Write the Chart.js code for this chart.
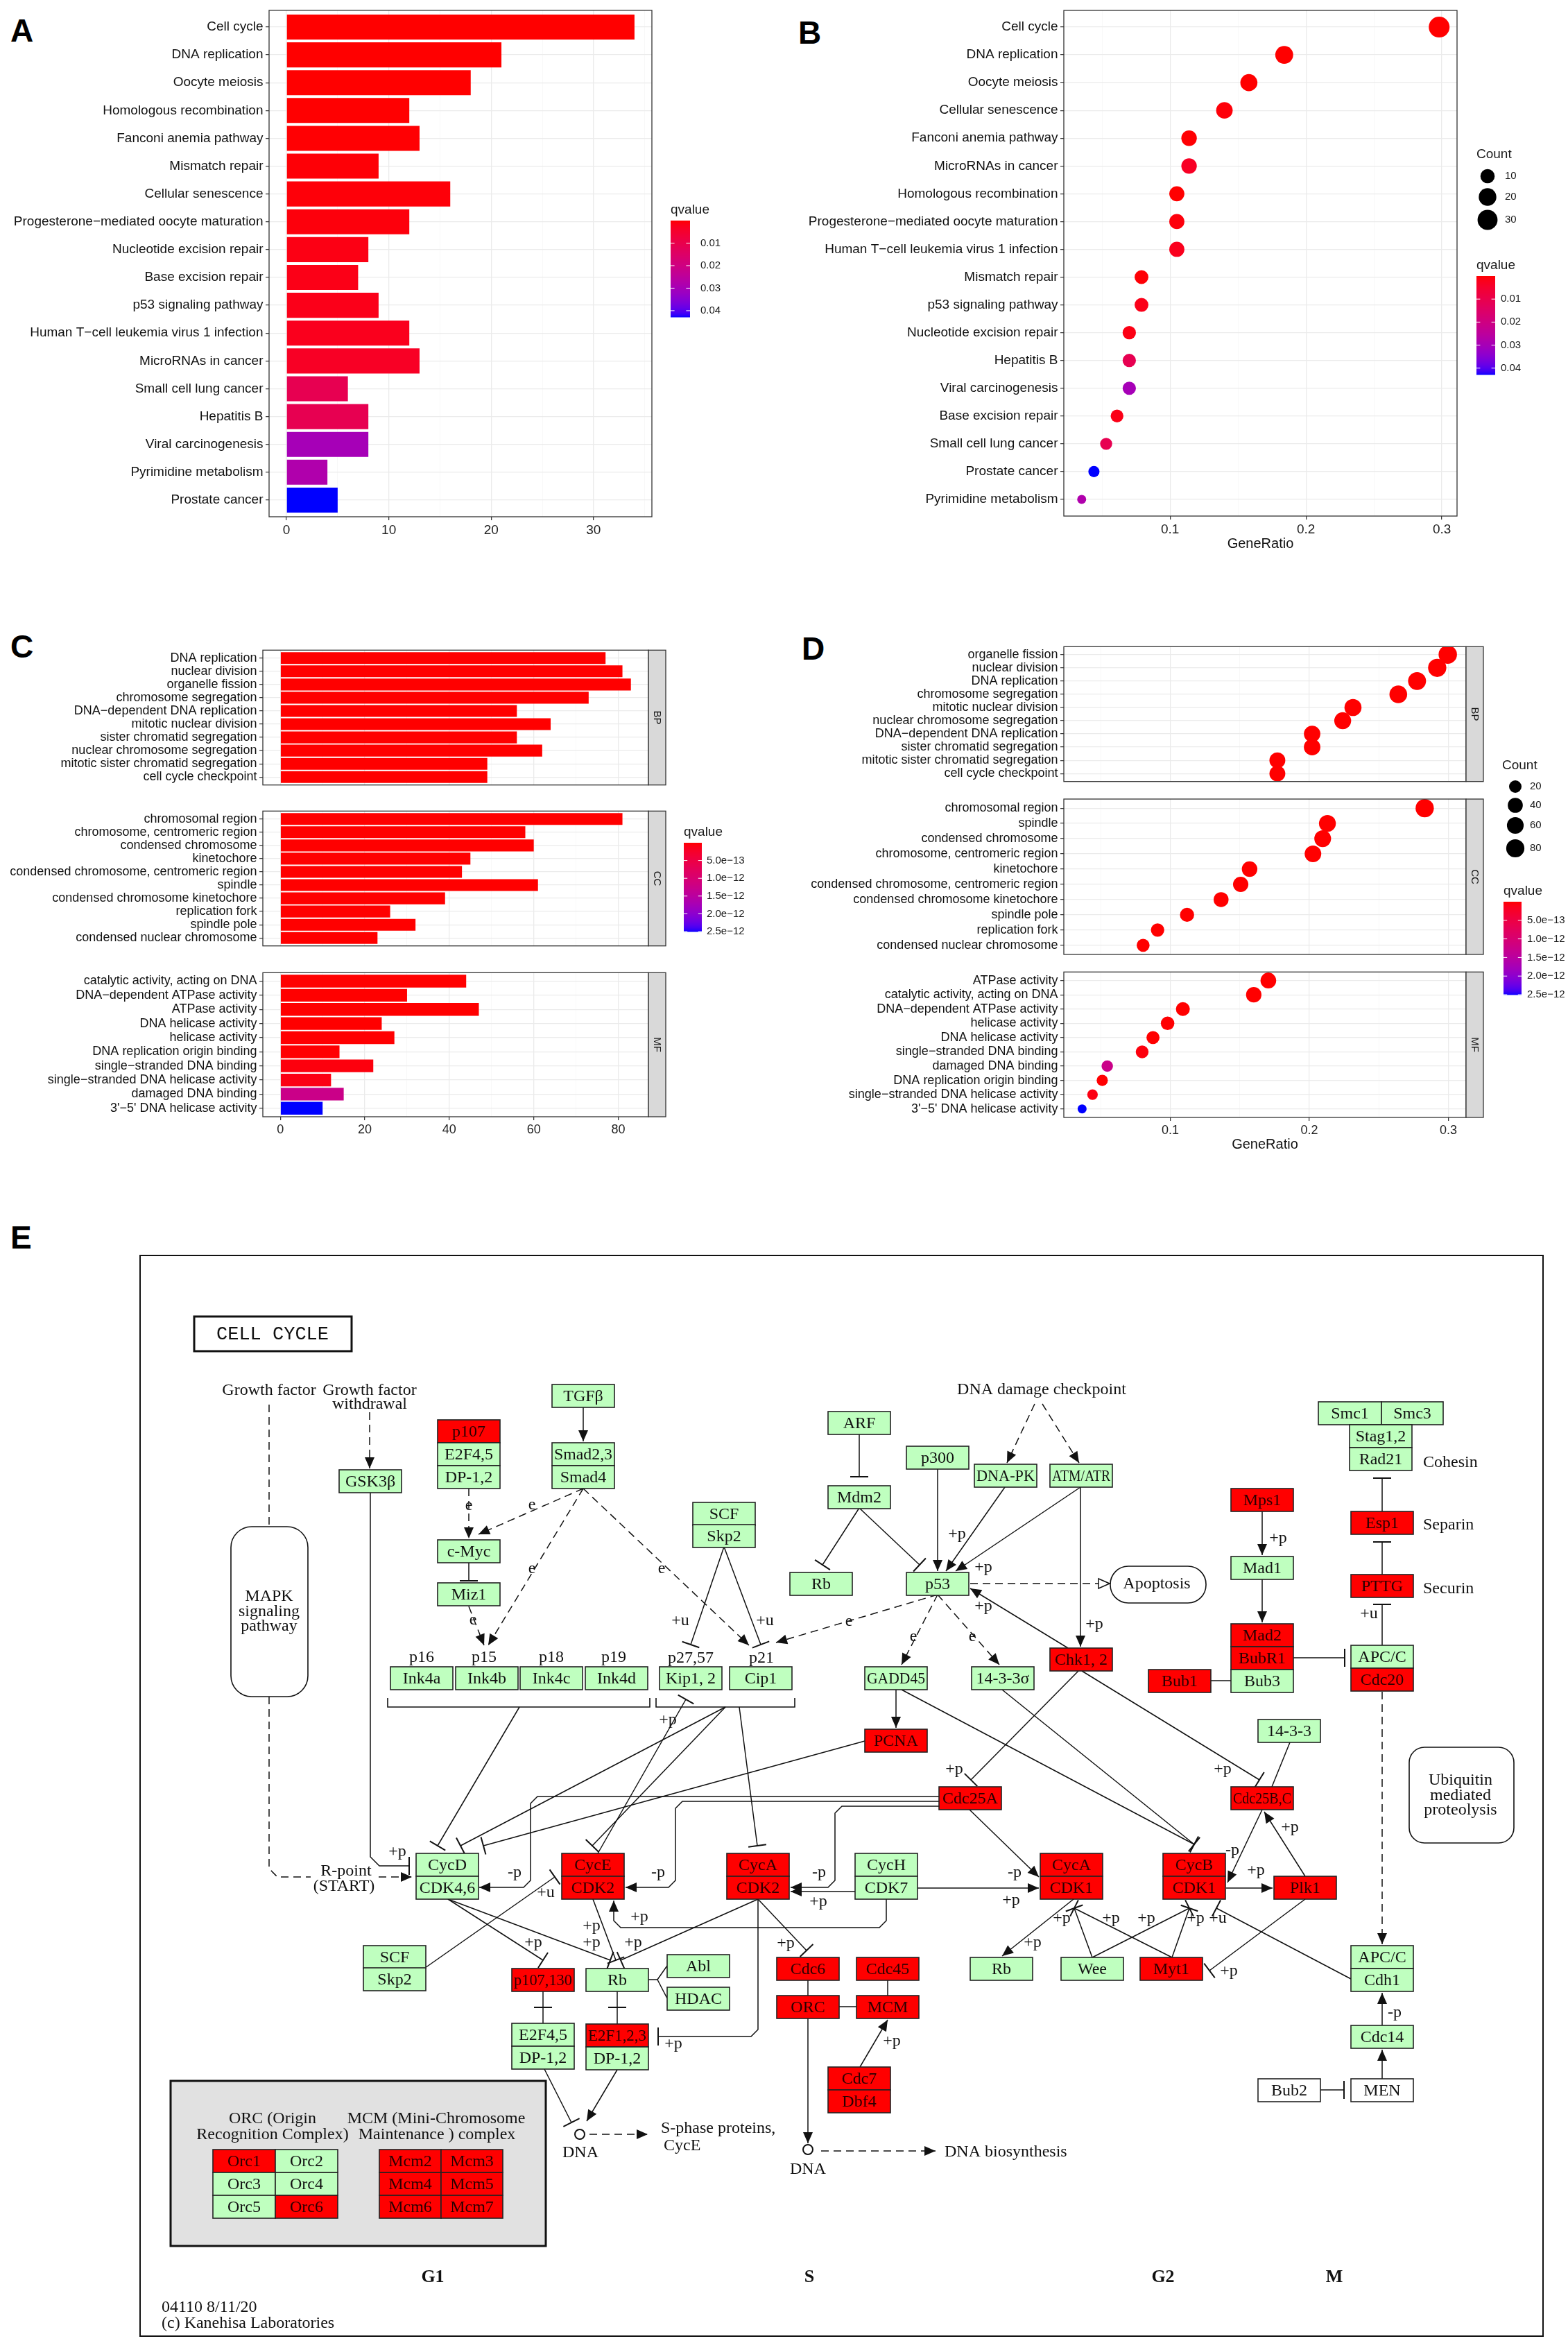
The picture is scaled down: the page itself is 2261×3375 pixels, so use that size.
<!DOCTYPE html>
<html>
<head>
<meta charset="utf-8">
<title>Enrichment and cell cycle pathway</title>
<script src="https://cdn.jsdelivr.net/npm/chart.js@4.4.1/dist/chart.umd.min.js"></script>
<style>
  html, body { margin: 0; padding: 0; background: #fff; }
  body { position: relative; width: 2261px; height: 3375px; overflow: hidden; }
  canvas { position: absolute; }
  .tag { position: absolute; font: bold 46px "Liberation Sans", Arial, sans-serif; line-height: 46px; color: #000; }
</style>
</head>
<body>
<div class="tag" style="left:15px;top:21px">A</div>
<div class="tag" style="left:1151px;top:24px">B</div>
<div class="tag" style="left:15px;top:909px">C</div>
<div class="tag" style="left:1156px;top:912px">D</div>
<div class="tag" style="left:15px;top:1761px">E</div>
<script>
const SANS = '"Liberation Sans", Arial, sans-serif';
const SERIF = '"Liberation Serif", "Times New Roman", serif';
const MONO = '"Liberation Mono", "Courier New", monospace';

Chart.defaults.font.family = SANS;
Chart.defaults.color = '#111';
Chart.defaults.animation = false;
Chart.defaults.responsive = false;
Chart.defaults.plugins.legend.display = false;
Chart.defaults.plugins.tooltip.enabled = false;

// ---- A / B : KEGG enrichment ----
const aPathways = ['Cell cycle', 'DNA replication', 'Oocyte meiosis', 'Homologous recombination',
  'Fanconi anemia pathway', 'Mismatch repair', 'Cellular senescence',
  'Progesterone\u2212mediated oocyte maturation', 'Nucleotide excision repair', 'Base excision repair',
  'p53 signaling pathway', 'Human T\u2212cell leukemia virus 1 infection', 'MicroRNAs in cancer',
  'Small cell lung cancer', 'Hepatitis B', 'Viral carcinogenesis', 'Pyrimidine metabolism', 'Prostate cancer'];
const aCounts = [34, 21, 18, 12, 13, 9, 16, 12, 8, 7, 9, 12, 13, 6, 8, 8, 4, 5];
const aQvalues = [1e-20, 1e-12, 2e-5, 1e-4, 2e-4, 4e-4, 6e-4, 8e-4, 1.5e-3, 1.8e-3, 2e-3, 2.5e-3,
  3.5e-3, 0.011, 0.011, 0.030, 0.028, 0.0428];

const bPathways = ['Cell cycle', 'DNA replication', 'Oocyte meiosis', 'Cellular senescence',
  'Fanconi anemia pathway', 'MicroRNAs in cancer', 'Homologous recombination',
  'Progesterone\u2212mediated oocyte maturation', 'Human T\u2212cell leukemia virus 1 infection',
  'Mismatch repair', 'p53 signaling pathway', 'Nucleotide excision repair', 'Hepatitis B',
  'Viral carcinogenesis', 'Base excision repair', 'Small cell lung cancer', 'Prostate cancer',
  'Pyrimidine metabolism'];
const bGeneRatio = [0.298, 0.184, 0.158, 0.140, 0.114, 0.114, 0.105, 0.105, 0.105, 0.079, 0.079,
  0.070, 0.070, 0.070, 0.061, 0.053, 0.044, 0.035];
const bCounts = [34, 21, 18, 16, 13, 13, 12, 12, 12, 9, 9, 8, 8, 8, 7, 6, 5, 4];
const bQvalues = [1e-20, 1e-12, 2e-5, 6e-4, 2e-4, 3.5e-3, 1e-4, 8e-4, 2.5e-3, 4e-4, 2e-3, 1.5e-3,
  0.011, 0.030, 1.8e-3, 0.011, 0.0428, 0.028];

// ---- C / D : GO enrichment ----
const cBPTerms = ['DNA replication', 'nuclear division', 'organelle fission', 'chromosome segregation',
  'DNA\u2212dependent DNA replication', 'mitotic nuclear division', 'sister chromatid segregation',
  'nuclear chromosome segregation', 'mitotic sister chromatid segregation', 'cell cycle checkpoint'];
const cBPCounts = [77, 81, 83, 73, 56, 64, 56, 62, 49, 49];
const cBPQ = [1e-40, 1e-38, 1e-37, 1e-33, 1e-32, 1e-30, 1e-29, 1e-29, 1e-26, 1e-20];
const cCCTerms = ['chromosomal region', 'chromosome, centromeric region', 'condensed chromosome',
  'kinetochore', 'condensed chromosome, centromeric region', 'spindle',
  'condensed chromosome kinetochore', 'replication fork', 'spindle pole', 'condensed nuclear chromosome'];
const cCCCounts = [81, 58, 60, 45, 43, 61, 39, 26, 32, 23];
const cCCQ = [1e-45, 1e-30, 1e-29, 1e-24, 1e-23, 1e-22, 1e-21, 1e-17, 1e-16, 1e-15];
const cMFTerms = ['catalytic activity, acting on DNA', 'DNA\u2212dependent ATPase activity', 'ATPase activity',
  'DNA helicase activity', 'helicase activity', 'DNA replication origin binding',
  'single\u2212stranded DNA binding', 'single\u2212stranded DNA helicase activity', 'damaged DNA binding',
  "3'\u22125' DNA helicase activity"];
const cMFCounts = [44, 30, 47, 24, 27, 14, 22, 12, 15, 10];
const cMFQ = [1e-20, 1e-18, 1e-17, 1e-15, 1e-14, 1e-14, 5e-14, 8e-14, 1.25e-12, 2.5e-12];

const dBPTerms = ['organelle fission', 'nuclear division', 'DNA replication', 'chromosome segregation',
  'mitotic nuclear division', 'nuclear chromosome segregation', 'DNA\u2212dependent DNA replication',
  'sister chromatid segregation', 'mitotic sister chromatid segregation', 'cell cycle checkpoint'];
const dBPRatio = [0.2996, 0.292, 0.2775, 0.264, 0.2314, 0.224, 0.202, 0.202, 0.177, 0.177];
const dBPCounts = [83, 81, 77, 73, 64, 62, 56, 56, 49, 49];
const dBPQ = [1e-37, 1e-38, 1e-40, 1e-33, 1e-30, 1e-29, 1e-32, 1e-29, 1e-26, 1e-20];
const dCCTerms = ['chromosomal region', 'spindle', 'condensed chromosome', 'chromosome, centromeric region',
  'kinetochore', 'condensed chromosome, centromeric region', 'condensed chromosome kinetochore',
  'spindle pole', 'replication fork', 'condensed nuclear chromosome'];
const dCCRatio = [0.283, 0.213, 0.2096, 0.2026, 0.157, 0.1506, 0.1365, 0.112, 0.0908, 0.0804];
const dCCCounts = [81, 61, 60, 58, 45, 43, 39, 32, 26, 23];
const dCCQ = [1e-45, 1e-22, 1e-29, 1e-30, 1e-24, 1e-23, 1e-21, 1e-16, 1e-17, 1e-15];
const dMFTerms = ['ATPase activity', 'catalytic activity, acting on DNA', 'DNA\u2212dependent ATPase activity',
  'helicase activity', 'DNA helicase activity', 'single\u2212stranded DNA binding', 'damaged DNA binding',
  'DNA replication origin binding', 'single\u2212stranded DNA helicase activity', "3'\u22125' DNA helicase activity"];
const dMFRatio = [0.1705, 0.16, 0.109, 0.098, 0.0875, 0.0797, 0.0546, 0.051, 0.044, 0.0365];
const dMFCounts = [47, 44, 30, 27, 24, 22, 15, 14, 12, 10];
const dMFQ = [1e-17, 1e-20, 1e-18, 1e-14, 1e-15, 5e-14, 1.25e-12, 1e-14, 8e-14, 2.5e-12];

const goQTicks = [5e-13, 1e-12, 1.5e-12, 2e-12, 2.5e-12];
const goQLabels = ['5.0e\u221213', '1.0e\u221212', '1.5e\u221212', '2.0e\u221212', '2.5e\u221212'];

// ---- E : KEGG cell cycle map (hsa04110) ----
// [label, left, top, colour(r = enriched, g = not found, w = other), width]
const keggNodes = [
  ['GSK3\u03b2', 489, 2119, 'g'],
  ['p107', 631, 2047, 'r'], ['E2F4,5', 631, 2080, 'g'], ['DP-1,2', 631, 2113, 'g'],
  ['TGF\u03b2', 796, 1996, 'g'], ['Smad2,3', 796, 2080, 'g'], ['Smad4', 796, 2113, 'g'],
  ['c-Myc', 631, 2220, 'g'], ['Miz1', 631, 2282, 'g'],
  ['Ink4a', 563, 2403, 'g'], ['Ink4b', 657, 2403, 'g'], ['Ink4c', 750, 2403, 'g'], ['Ink4d', 844, 2403, 'g'],
  ['SCF', 999, 2166, 'g'], ['Skp2', 999, 2198, 'g'],
  ['Kip1, 2', 951, 2403, 'g'], ['Cip1', 1052, 2403, 'g'],
  ['ARF', 1194, 2035, 'g'], ['Mdm2', 1194, 2142, 'g'], ['Rb', 1139, 2267, 'g'],
  ['p300', 1307, 2085, 'g'], ['p53', 1307, 2267, 'g'],
  ['DNA-PK', 1405, 2111, 'g'], ['ATM/ATR', 1514, 2111, 'g'],
  ['GADD45', 1247, 2403, 'g'], ['14-3-3\u03c3', 1401, 2403, 'g'], ['PCNA', 1247, 2493, 'r'],
  ['Chk1, 2', 1514, 2376, 'r'],
  ['Mps1', 1775, 2146, 'r'], ['Mad1', 1775, 2244, 'g'], ['Mad2', 1775, 2341, 'r'],
  ['BubR1', 1775, 2374, 'r'], ['Bub3', 1775, 2407, 'g'], ['Bub1', 1656, 2407, 'r'],
  ['Smc1', 1901, 2021, 'g', 91], ['Smc3', 1992, 2021, 'g', 89], ['Stag1,2', 1946, 2054, 'g'],
  ['Rad21', 1946, 2087, 'g'],
  ['Esp1', 1948, 2179, 'r'], ['PTTG', 1948, 2270, 'r'], ['APC/C', 1948, 2372, 'g'], ['Cdc20', 1948, 2405, 'r'],
  ['14-3-3', 1814, 2479, 'g'],
  ['CycD', 600, 2672, 'g'], ['CDK4,6', 600, 2705, 'g'],
  ['CycE', 810, 2672, 'r'], ['CDK2', 810, 2705, 'r'],
  ['CycA', 1048, 2672, 'r'], ['CDK2', 1048, 2705, 'r'],
  ['CycH', 1233, 2672, 'g'], ['CDK7', 1233, 2705, 'g'],
  ['CycA', 1500, 2672, 'r'], ['CDK1', 1500, 2705, 'r'],
  ['CycB', 1677, 2672, 'r'], ['CDK1', 1677, 2705, 'r'],
  ['Plk1', 1837, 2705, 'r'], ['Cdc25A', 1354, 2576, 'r'], ['Cdc25B,C', 1775, 2576, 'r'],
  ['SCF', 524, 2805, 'g'], ['Skp2', 524, 2837, 'g'],
  ['p107,130', 738, 2838, 'r'], ['E2F4,5', 738, 2917, 'g'], ['DP-1,2', 738, 2950, 'g'],
  ['Rb', 845, 2838, 'g'], ['E2F1,2,3', 845, 2918, 'r'], ['DP-1,2', 845, 2951, 'g'],
  ['Abl', 962, 2818, 'g'], ['HDAC', 962, 2865, 'g'],
  ['Cdc6', 1120, 2822, 'r'], ['Cdc45', 1235, 2822, 'r'], ['ORC', 1120, 2877, 'r'], ['MCM', 1235, 2877, 'r'],
  ['Cdc7', 1194, 2980, 'r'], ['Dbf4', 1194, 3013, 'r'],
  ['Rb', 1399, 2822, 'g'], ['Wee', 1530, 2822, 'g'], ['Myt1', 1644, 2822, 'r'],
  ['APC/C', 1948, 2805, 'g'], ['Cdh1', 1948, 2838, 'g'], ['Cdc14', 1948, 2920, 'g'],
  ['MEN', 1948, 2997, 'w'], ['Bub2', 1814, 2997, 'w'],
  ['Orc1', 307, 3099, 'r'], ['Orc2', 397, 3099, 'g'], ['Orc3', 307, 3132, 'g'], ['Orc4', 397, 3132, 'g'],
  ['Orc5', 307, 3165, 'g'], ['Orc6', 397, 3165, 'r'],
  ['Mcm2', 547, 3099, 'r', 89], ['Mcm3', 636, 3099, 'r', 89], ['Mcm4', 547, 3132, 'r', 89],
  ['Mcm5', 636, 3132, 'r', 89], ['Mcm6', 547, 3165, 'r', 89], ['Mcm7', 636, 3165, 'r', 89]
];

// [type, polyline, label, label x, label y]   a arrow, i inhibition, l line, d dashed, da dashed arrow, o open arrow, lb bar on line
const keggEdges = [
  ['d', [388, 2025, 388, 2201]],
  ['d', [388, 2446, 388, 2694, 400, 2706, 448, 2706]],
  ['da', [546, 2706, 594, 2706]],
  ['da', [533, 2036, 533, 2117]],
  ['i', [534, 2151, 534, 2677, 547, 2690, 590, 2690], '+p', 573, 2670],
  ['a', [841, 2029, 841, 2078]],
  ['da', [676, 2146, 676, 2218], 'e', 676, 2171],
  ['da', [841, 2146, 690, 2212], 'e', 767, 2170],
  ['i', [676, 2253, 676, 2279]],
  ['da', [676, 2316, 698, 2372], 'e', 682, 2336],
  ['da', [841, 2146, 704, 2372], 'e', 767, 2262],
  ['da', [841, 2146, 1080, 2372], 'e', 954, 2262],
  ['i', [1044, 2230, 996, 2371], '+u', 981, 2337],
  ['i', [1044, 2230, 1097, 2371], '+u', 1103, 2337],
  ['da', [1352, 2299, 1119, 2368], 'e', 1224, 2338],
  ['i', [1239, 2068, 1239, 2129]],
  ['i', [1239, 2174, 1186, 2256]],
  ['i', [1239, 2174, 1326, 2256]],
  ['a', [1352, 2118, 1352, 2265]],
  ['a', [1449, 2144, 1364, 2265], '+p', 1380, 2212],
  ['a', [1558, 2144, 1378, 2265], '+p', 1418, 2260],
  ['da', [1492, 2024, 1452, 2109]],
  ['da', [1503, 2024, 1556, 2109]],
  ['a', [1558, 2144, 1558, 2374], '+p', 1578, 2342],
  ['a', [1540, 2376, 1399, 2290], '+p', 1418, 2316],
  ['o', [1399, 2283, 1600, 2283]],
  ['da', [1352, 2299, 1300, 2400], 'e', 1317, 2360],
  ['da', [1352, 2299, 1441, 2400], 'e', 1402, 2360],
  ['a', [1292, 2436, 1292, 2491]],
  ['a', [1820, 2179, 1820, 2242], '+p', 1843, 2218],
  ['a', [1820, 2276, 1820, 2339]],
  ['i', [1865, 2390, 1939, 2390]],
  ['l', [1746, 2423, 1775, 2423]],
  ['i', [1993, 2179, 1993, 2131]],
  ['i', [1993, 2270, 1993, 2223]],
  ['i', [1993, 2372, 1993, 2313], '+u', 1974, 2327],
  ['da', [1993, 2439, 1993, 2803]],
  ['i', [1555, 2409, 1400, 2566], '+p', 1376, 2551],
  ['i', [1560, 2409, 1816, 2566], '+p', 1763, 2551],
  ['l', [1860, 2512, 1834, 2576]],
  ['i', [1300, 2436, 1722, 2659]],
  ['i', [1445, 2436, 1722, 2659]],
  ['a', [1398, 2609, 1498, 2706], '-p', 1463, 2700],
  ['a', [1354, 2590, 775, 2590, 765, 2600, 765, 2711, 755, 2721, 691, 2721], '-p', 742, 2700],
  ['a', [1354, 2597, 984, 2597, 974, 2607, 974, 2711, 964, 2721, 902, 2721], '-p', 949, 2700],
  ['a', [1354, 2604, 1214, 2604, 1204, 2614, 1204, 2711, 1194, 2721, 1140, 2721], '-p', 1181, 2700],
  ['a', [1233, 2727, 1140, 2727], '+p', 1180, 2742],
  ['a', [1323, 2722, 1498, 2722], '+p', 1458, 2740],
  ['a', [1278, 2738, 1278, 2769, 1268, 2779, 895, 2779, 885, 2769, 885, 2740], '+p', 922, 2764],
  ['a', [1768, 2722, 1835, 2722], '+p', 1811, 2697],
  ['a', [1882, 2705, 1823, 2612], '+p', 1860, 2635],
  ['a', [1820, 2609, 1770, 2714], '-p', 1777, 2668],
  ['i', [1575, 2822, 1549, 2751]],
  ['i', [1575, 2822, 1715, 2751], '+p', 1653, 2766],
  ['i', [1690, 2822, 1549, 2751], '+p', 1602, 2766],
  ['i', [1690, 2822, 1715, 2751], '+p', 1724, 2766],
  ['a', [1548, 2738, 1445, 2820], '+p', 1489, 2801],
  ['i', [1882, 2738, 1744, 2841], '+p', 1772, 2842],
  ['i', [1948, 2853, 1754, 2751], '+u', 1756, 2766],
  ['a', [1993, 2920, 1993, 2873], '-p', 2011, 2902],
  ['a', [1993, 2997, 1993, 2955]],
  ['i', [1904, 3013, 1938, 3013]],
  ['i', [749, 2461, 631, 2661]],
  ['i', [1046, 2461, 664, 2661]],
  ['i', [1247, 2510, 697, 2661]],
  ['i', [1046, 2461, 854, 2661]],
  ['i', [1066, 2461, 1092, 2661]],
  ['i', [862, 2672, 989, 2450], '+p', 963, 2480],
  ['i', [613, 2837, 800, 2706], '+u', 787, 2729],
  ['i', [646, 2738, 783, 2826], '+p', 769, 2801],
  ['i', [646, 2738, 880, 2826]],
  ['i', [855, 2738, 888, 2826], '+p', 853, 2777],
  ['i', [1093, 2738, 895, 2826], '+p', 913, 2801],
  ['lb', [783, 2871, 783, 2917]],
  ['lb', [890, 2870, 890, 2918]],
  ['l', [935, 2854, 948, 2854, 962, 2834]],
  ['l', [948, 2854, 962, 2881]],
  ['i', [1093, 2738, 1093, 2926, 1083, 2936, 949, 2936], '+p', 971, 2947],
  ['i', [1093, 2738, 1163, 2812], '+p', 1133, 2802],
  ['l', [1165, 2855, 1165, 2877]],
  ['l', [1280, 2855, 1280, 2877]],
  ['l', [1210, 2893, 1235, 2893]],
  ['a', [1240, 2980, 1280, 2912], '+p', 1286, 2943],
  ['a', [1165, 2910, 1165, 3090]],
  ['da', [1184, 3101, 1349, 3101]],
  ['i', [785, 2983, 824, 3060]],
  ['a', [890, 2984, 846, 3058]],
  ['da', [850, 3077, 934, 3077]]
];

const keggBrackets = [[559, 937, 2448, 2461], [946, 1146, 2448, 2461]];
const keggRounds = [[333, 2201, 111, 245, 30], [1601, 2258, 138, 53, 26], [2032, 2519, 151, 138, 22]];
const keggCircles = [[836, 3077], [1165, 3099]];

// [text, x, y, align, style]
const keggTexts = [
  ['CELL CYCLE', 393, 1924, 'center', 'm'],
  ['Growth factor', 388, 2005, 'center', 'n'],
  ['Growth factor', 533, 2005, 'center', 'n'], ['withdrawal', 533, 2025, 'center', 'n'],
  ['MAPK', 388, 2302, 'center', 'n'], ['signaling', 388, 2324, 'center', 'n'], ['pathway', 388, 2345, 'center', 'n'],
  ['R-point', 499, 2698, 'center', 'n'], ['(START)', 496, 2720, 'center', 'n'],
  ['DNA damage checkpoint', 1502, 2004, 'center', 'n'],
  ['p16', 608, 2390, 'center', 'n'], ['p15', 698, 2390, 'center', 'n'], ['p18', 795, 2390, 'center', 'n'],
  ['p19', 885, 2390, 'center', 'n'], ['p27,57', 996, 2391, 'center', 'n'], ['p21', 1098, 2391, 'center', 'n'],
  ['Cohesin', 2052, 2109, 'left', 'n'], ['Separin', 2052, 2199, 'left', 'n'], ['Securin', 2052, 2291, 'left', 'n'],
  ['Apoptosis', 1668, 2284, 'center', 'n'],
  ['Ubiquitin', 2106, 2567, 'center', 'n'], ['mediated', 2106, 2589, 'center', 'n'],
  ['proteolysis', 2106, 2610, 'center', 'n'],
  ['S-phase proteins,', 953, 3069, 'left', 'n'], ['CycE', 957, 3094, 'left', 'n'],
  ['DNA biosynthesis', 1362, 3103, 'left', 'n'],
  ['DNA', 837, 3104, 'center', 'n'], ['DNA', 1165, 3128, 'center', 'n'],
  ['+p', 853, 2801, 'center', 'n'], ['+p', 1531, 2766, 'center', 'n'],
  ['ORC (Origin', 393, 3055, 'center', 'n'], ['Recognition Complex)', 393, 3078, 'center', 'n'],
  ['MCM (Mini-Chromosome', 629, 3055, 'center', 'n'], ['Maintenance ) complex', 630, 3078, 'center', 'n'],
  ['G1', 624, 3283, 'center', 'b'], ['S', 1167, 3283, 'center', 'b'],
  ['G2', 1677, 3283, 'center', 'b'], ['M', 1924, 3283, 'center', 'b'],
  ['04110 8/11/20', 233, 3327, 'left', 'n'], ['(c) Kanehisa Laboratories', 233, 3350, 'left', 'n']
];

// ---------- colour scale (ggplot red -> blue, interpolated in Lab) ----------
function toLab(c) {
  const lin = c.map(v => { v /= 255; return v <= 0.04045 ? v / 12.92 : Math.pow((v + 0.055) / 1.055, 2.4); });
  const X = (0.4124 * lin[0] + 0.3576 * lin[1] + 0.1805 * lin[2]) / 0.95047;
  const Y = 0.2126 * lin[0] + 0.7152 * lin[1] + 0.0722 * lin[2];
  const Z = (0.0193 * lin[0] + 0.1192 * lin[1] + 0.9505 * lin[2]) / 1.08883;
  const f = t => t > 0.008856 ? Math.cbrt(t) : 7.787 * t + 16 / 116;
  return [116 * f(Y) - 16, 500 * (f(X) - f(Y)), 200 * (f(Y) - f(Z))];
}
function fromLab(l) {
  const fy = (l[0] + 16) / 116, fx = fy + l[1] / 500, fz = fy - l[2] / 200;
  const g = t => t > 0.206893 ? t * t * t : (t - 16 / 116) / 7.787;
  const X = g(fx) * 0.95047, Y = g(fy), Z = g(fz) * 1.08883;
  const lin = [3.2406 * X - 1.5372 * Y - 0.4986 * Z, -0.9689 * X + 1.8758 * Y + 0.0415 * Z,
    0.0557 * X - 0.2040 * Y + 1.0570 * Z];
  const rgb = lin.map(v => {
    v = Math.min(1, Math.max(0, v));
    v = v <= 0.0031308 ? 12.92 * v : 1.055 * Math.pow(v, 1 / 2.4) - 0.055;
    return Math.round(v * 255);
  });
  return 'rgb(' + rgb.join(',') + ')';
}
const LAB_LOW = toLab([255, 0, 0]), LAB_HIGH = toLab([0, 0, 255]);
function qColor(q, lo, hi) {
  const t = Math.min(1, Math.max(0, (q - lo) / (hi - lo)));
  return fromLab(LAB_LOW.map((v, i) => v + (LAB_HIGH[i] - v) * t));
}
function dotR(c, cmin, cmax, dmin, dmax) {
  return (dmin + (dmax - dmin) * Math.sqrt((c - cmin) / (cmax - cmin))) / 2;
}
function expand(vals, withZero) {
  const lo = withZero ? 0 : Math.min(...vals), hi = Math.max(...vals), pad = (hi - lo) * 0.05;
  return [lo - pad, hi + pad];
}

// ---------- plugins ----------
const panelPlugin = {
  id: 'panel',
  afterDatasetsDraw(chart, args, o) {
    const { ctx, chartArea: a } = chart;
    ctx.save();
    ctx.strokeStyle = '#333';
    ctx.lineWidth = 1.3;
    ctx.strokeRect(a.left, a.top, a.right - a.left, a.bottom - a.top);
    if (o.strip) {
      ctx.fillStyle = '#D9D9D9';
      ctx.fillRect(a.right, a.top, o.stripW, a.bottom - a.top);
      ctx.strokeRect(a.right, a.top, o.stripW, a.bottom - a.top);
      ctx.fillStyle = '#1a1a1a';
      ctx.font = '15px ' + SANS;
      ctx.translate(a.right + o.stripW / 2, (a.top + a.bottom) / 2);
      ctx.rotate(Math.PI / 2);
      ctx.textAlign = 'center';
      ctx.textBaseline = 'middle';
      ctx.fillText(o.strip, 0, 0);
    }
    ctx.restore();
  }
};

function drawColorbar(ctx, g) {
  const span = g.hi - g.lo;
  for (let i = 0; i < g.h; i++) {
    ctx.fillStyle = qColor(g.lo + span * (i + 0.5) / g.h, g.lo, g.hi);
    ctx.fillRect(g.x, g.y + i, g.w, 1.5);
  }
  ctx.strokeStyle = '#fff';
  ctx.lineWidth = 1;
  ctx.fillStyle = '#1a1a1a';
  ctx.font = '15px ' + SANS;
  ctx.textAlign = 'left';
  ctx.textBaseline = 'middle';
  g.ticks.forEach((v, k) => {
    const y = g.y + (v - g.lo) / span * g.h;
    ctx.beginPath();
    ctx.moveTo(g.x, y); ctx.lineTo(g.x + g.w / 5, y);
    ctx.moveTo(g.x + g.w * 0.8, y); ctx.lineTo(g.x + g.w, y);
    ctx.stroke();
    ctx.fillText(g.labels[k], g.lx, y);
  });
  ctx.font = '19px ' + SANS;
  ctx.fillText(g.title, g.x, g.y - 15);
}

function drawCountGuide(ctx, g) {
  ctx.fillStyle = '#1a1a1a';
  ctx.font = '19px ' + SANS;
  ctx.textAlign = 'left';
  ctx.textBaseline = 'middle';
  ctx.fillText(g.title, g.x, g.titleY);
  ctx.font = '15px ' + SANS;
  g.items.forEach(([c, cy]) => {
    ctx.fillStyle = '#000';
    ctx.beginPath();
    ctx.arc(g.cx, cy, g.r(c), 0, Math.PI * 2);
    ctx.fill();
    ctx.fillStyle = '#1a1a1a';
    ctx.fillText(String(c), g.lx, cy);
  });
}

const guidePlugin = {
  id: 'guide',
  afterDraw(chart, args, o) {
    if (!o || (!o.bar && !o.count)) return;
    const ctx = chart.ctx;
    ctx.save();
    ctx.translate(-o.ox, -o.oy);
    if (o.count) drawCountGuide(ctx, o.count);
    if (o.bar) drawColorbar(ctx, o.bar);
    ctx.restore();
  }
};

// ---------- scales ----------
function valueScale(range, major, minor, o) {
  const isMajor = v => major.some(m => Math.abs(m - v) < 1e-9);
  return {
    type: 'linear', min: range[0], max: range[1], offset: false,
    afterBuildTicks: s => { s.ticks = major.concat(minor).sort((p, q) => p - q).map(v => ({ value: v })); },
    afterFit: s => { s.height = o.height; },
    ticks: {
      display: o.labels, autoSkip: false, maxRotation: 0, padding: 3, color: '#222', font: { size: o.size || 19 },
      callback: v => isMajor(v) ? String(v) : ''
    },
    grid: {
      color: c => c.tick && isMajor(c.tick.value) ? '#EBEBEB' : '#F5F5F5',
      lineWidth: c => c.tick && isMajor(c.tick.value) ? 1.3 : 0.7,
      drawTicks: o.labels, tickLength: 5, tickWidth: 1.2,
      tickColor: c => c.tick && isMajor(c.tick.value) ? '#333' : 'rgba(0,0,0,0)'
    },
    border: { display: false },
    title: { display: !!o.title, text: o.title || '', color: '#111', font: { size: 20 }, padding: { top: 0, bottom: 4 } }
  };
}

function catScale(labels, width, size) {
  return {
    type: 'linear', reverse: true, min: 0.4, max: labels.length + 0.6, offset: false,
    afterBuildTicks: s => { s.ticks = labels.map((_, i) => ({ value: i + 1 })); },
    afterFit: s => { s.width = width; },
    ticks: { autoSkip: false, padding: 3.5, color: '#111', font: { size: size }, callback: v => labels[v - 1] },
    grid: { color: '#EBEBEB', lineWidth: 1.3, offset: false, tickLength: 5, tickWidth: 1.2, tickColor: '#333' },
    border: { display: false }
  };
}

function makeCanvas(left, top, w, h) {
  const c = document.createElement('canvas');
  c.width = w; c.height = h;
  c.style.left = left + 'px'; c.style.top = top + 'px';
  c.style.width = w + 'px'; c.style.height = h + 'px';
  document.body.appendChild(c);
  return c;
}

function panel(cfg) {
  const cv = makeCanvas(cfg.left, cfg.top, cfg.w, cfg.h);
  const pts = cfg.values.map((v, i) => ({ x: v, y: i + 1 }));
  const ds = cfg.kind === 'bar'
    ? { data: pts, backgroundColor: cfg.colors, barPercentage: 0.9, categoryPercentage: 1, borderWidth: 0 }
    : { data: pts, pointBackgroundColor: cfg.colors, pointBorderWidth: 0, pointRadius: cfg.radii, pointHoverRadius: cfg.radii };
  return new Chart(cv, {
    type: cfg.kind === 'bar' ? 'bar' : 'scatter',
    data: { datasets: [ds] },
    options: {
      indexAxis: cfg.kind === 'bar' ? 'y' : 'x',
      layout: { padding: { top: cfg.padTop, right: cfg.padRight, left: 0, bottom: 0 } },
      scales: { x: cfg.x, y: cfg.y },
      plugins: { panel: { strip: cfg.strip, stripW: 25 }, guide: cfg.guide || {} }
    },
    plugins: [panelPlugin, guidePlugin]
  });
}

// ---------- A ----------
const aLo = Math.min(...aQvalues), aHi = Math.max(...aQvalues);
panel({
  kind: 'bar', left: 0, top: 0, w: 1060, h: 790, padTop: 6, padRight: 120,
  values: aCounts, colors: aQvalues.map(q => qColor(q, aLo, aHi)),
  x: valueScale(expand(aCounts, true), [0, 10, 20, 30], [5, 15, 25, 35], { height: 45, labels: true }),
  y: catScale(aPathways, 388, 19),
  guide: { ox: 0, oy: 0, bar: { x: 967, y: 318, w: 28, h: 139, lx: 1010, lo: aLo, hi: aHi,
    ticks: [0.01, 0.02, 0.03, 0.04], labels: ['0.01', '0.02', '0.03', '0.04'], title: 'qvalue' } }
});

// ---------- B ----------
const bLo = Math.min(...bQvalues), bHi = Math.max(...bQvalues);
const bCmin = Math.min(...bCounts), bCmax = Math.max(...bCounts);
const bSize = c => dotR(c, bCmin, bCmax, 13, 30);
panel({
  kind: 'dot', left: 1060, top: 0, w: 1201, h: 800, padTop: 9, padRight: 160,
  values: bGeneRatio, radii: bCounts.map(bSize), colors: bQvalues.map(q => qColor(q, bLo, bHi)),
  x: valueScale(expand(bGeneRatio), [0.1, 0.2, 0.3], [0.05, 0.15, 0.25], { height: 56, labels: true, title: 'GeneRatio' }),
  y: catScale(bPathways, 474, 19),
  guide: { ox: 1060, oy: 0,
    count: { title: 'Count', x: 2129, titleY: 223, cx: 2145, lx: 2170, r: bSize, items: [[10, 254], [20, 284], [30, 317]] },
    bar: { x: 2129, y: 398, w: 27, h: 142, lx: 2164, lo: bLo, hi: bHi,
      ticks: [0.01, 0.02, 0.03, 0.04], labels: ['0.01', '0.02', '0.03', '0.04'], title: 'qvalue' } }
});

// ---------- C ----------
const cAllQ = cBPQ.concat(cCCQ, cMFQ);
const cLo = Math.min(...cAllQ), cHi = Math.max(...cAllQ);
const cRange = expand(cBPCounts.concat(cCCCounts, cMFCounts), true);
const cFacets = [
  ['BP', cBPTerms, cBPCounts, cBPQ, 923, 223, 0, false],
  ['CC', cCCTerms, cCCCounts, cCCQ, 1155, 223, 0, false],
  ['MF', cMFTerms, cMFCounts, cMFQ, 1388, 262, 40, true]
];
cFacets.forEach(([name, terms, counts, qs, top, h, axisH, showTicks]) => {
  panel({
    kind: 'bar', left: 0, top: top, w: 1090, h: h, padTop: 0, padRight: 1090 - 935, strip: name,
    values: counts, colors: qs.map(q => qColor(q, cLo, cHi)),
    x: valueScale(cRange, [0, 20, 40, 60, 80], [10, 30, 50, 70], { height: axisH, labels: showTicks, size: 18 }),
    y: catScale(terms, 379, 18),
    guide: name === 'CC' ? { ox: 0, oy: top, bar: { x: 986, y: 1215, w: 26, h: 128, lx: 1019, lo: cLo, hi: cHi,
      ticks: goQTicks, labels: goQLabels, title: 'qvalue' } } : {}
  });
});

// ---------- D ----------
const dAllQ = dBPQ.concat(dCCQ, dMFQ);
const dLo = Math.min(...dAllQ), dHi = Math.max(...dAllQ);
const dAllCounts = dBPCounts.concat(dCCCounts, dMFCounts);
const dCmin = Math.min(...dAllCounts), dCmax = Math.max(...dAllCounts);
const dSize = c => dotR(c, dCmin, dCmax, 13, 26.5);
const dRange = expand(dBPRatio.concat(dCCRatio, dMFRatio));
const dFacets = [
  ['BP', dBPTerms, dBPRatio, dBPCounts, dBPQ, 918, 223, 0, 0, false],
  ['CC', dCCTerms, dCCRatio, dCCCounts, dCCQ, 1080, 370, 72, 74, false],
  ['MF', dMFTerms, dMFRatio, dMFCounts, dMFQ, 1387, 279, 0, 55, true]
];
dFacets.forEach(([name, terms, ratio, counts, qs, top, h, padTop, axisH, showTicks]) => {
  panel({
    kind: 'dot', left: 1100, top: top, w: 1161, h: h, padTop: padTop, padRight: 2261 - 2114, strip: name,
    values: ratio, radii: counts.map(dSize), colors: qs.map(q => qColor(q, dLo, dHi)),
    x: valueScale(dRange, [0.1, 0.2, 0.3], [0.05, 0.15, 0.25],
      { height: axisH, labels: showTicks, size: 18, title: showTicks ? 'GeneRatio' : '' }),
    y: catScale(terms, 434, 18),
    guide: name === 'CC' ? { ox: 1100, oy: top,
      count: { title: 'Count', x: 2166, titleY: 1104, cx: 2185, lx: 2206, r: dSize,
        items: [[20, 1134], [40, 1161], [60, 1190], [80, 1223]] },
      bar: { x: 2168, y: 1300, w: 26, h: 134, lx: 2202, lo: dLo, hi: dHi,
        ticks: goQTicks, labels: goQLabels, title: 'qvalue' } } : {}
  });
});

// ---------- E ----------
const KEGG_FILL = { r: '#FF0000', g: '#BFFFBF', w: '#FFFFFF' };

function drawEdge(ctx, e, X, Y) {
  const type = e[0], p = e[1], pts = [];
  for (let i = 0; i < p.length; i += 2) pts.push([X(p[i]), Y(p[i + 1])]);
  ctx.setLineDash(type === 'd' || type === 'da' || type === 'o' ? [11, 7] : []);
  ctx.beginPath();
  pts.forEach((q, i) => i ? ctx.lineTo(q[0], q[1]) : ctx.moveTo(q[0], q[1]));
  ctx.stroke();
  ctx.setLineDash([]);
  const a = pts[pts.length - 2], b = pts[pts.length - 1];
  const ang = Math.atan2(b[1] - a[1], b[0] - a[0]);
  if (type === 'a' || type === 'da' || type === 'o') {
    ctx.save();
    ctx.translate(b[0], b[1]);
    ctx.rotate(ang);
    ctx.beginPath();
    ctx.moveTo(0, 0); ctx.lineTo(-16, -7); ctx.lineTo(-16, 7); ctx.closePath();
    if (type === 'o') { ctx.fillStyle = '#fff'; ctx.fill(); ctx.stroke(); } else ctx.fill();
    ctx.restore();
  }
  if (type === 'i' || type === 'lb') {
    const m = type === 'i' ? b : [(a[0] + b[0]) / 2, (a[1] + b[1]) / 2];
    ctx.save();
    ctx.translate(m[0], m[1]);
    ctx.rotate(ang);
    ctx.lineWidth = 2;
    ctx.beginPath(); ctx.moveTo(0, -13); ctx.lineTo(0, 13); ctx.stroke();
    ctx.restore();
  }
  if (e[2]) ctx.fillText(e[2], X(e[3]), Y(e[4]));
}

const keggPlugin = {
  id: 'kegg',
  afterDatasetsDraw(chart) {
    const ctx = chart.ctx, sx = chart.scales.x, sy = chart.scales.y;
    const X = v => sx.getPixelForValue(v), Y = v => sy.getPixelForValue(v);
    const rect = (x0, y0, x1, y1) => [X(x0), Y(y0), X(x1) - X(x0), Y(y1) - Y(y0)];
    ctx.save();
    ctx.strokeStyle = '#111';
    ctx.lineWidth = 2;
    ctx.strokeRect(...rect(202, 1810, 2225, 3368));
    ctx.lineWidth = 3;
    ctx.strokeRect(...rect(280, 1898, 507, 1948));
    ctx.fillStyle = '#E1E1E1';
    ctx.fillRect(...rect(246, 3000, 787, 3238));
    ctx.strokeRect(...rect(246, 3000, 787, 3238));

    ctx.lineWidth = 1.6;
    keggRounds.forEach(r => {
      ctx.beginPath();
      ctx.roundRect(X(r[0]), Y(r[1]), X(r[0] + r[2]) - X(r[0]), Y(r[1] + r[3]) - Y(r[1]), r[4]);
      ctx.fillStyle = '#fff';
      ctx.fill();
      ctx.stroke();
    });
    keggBrackets.forEach(b => {
      ctx.beginPath();
      ctx.moveTo(X(b[0]), Y(b[2])); ctx.lineTo(X(b[0]), Y(b[3]));
      ctx.lineTo(X(b[1]), Y(b[3])); ctx.lineTo(X(b[1]), Y(b[2]));
      ctx.stroke();
    });

    ctx.lineWidth = 1.5;
    ctx.fillStyle = '#111';
    ctx.font = '24px ' + SERIF;
    ctx.textAlign = 'center';
    ctx.textBaseline = 'middle';
    keggEdges.forEach(e => drawEdge(ctx, e, X, Y));

    keggCircles.forEach(c => {
      ctx.beginPath();
      ctx.arc(X(c[0]), Y(c[1]), 7, 0, Math.PI * 2);
      ctx.fillStyle = '#fff'; ctx.fill();
      ctx.lineWidth = 2; ctx.stroke();
    });

    keggNodes.forEach(n => {
      const w = n[4] || 90;
      const [x0, y0, bw, bh] = rect(n[1], n[2], n[1] + w, n[2] + 33);
      ctx.fillStyle = KEGG_FILL[n[3]];
      ctx.fillRect(x0, y0, bw, bh);
      ctx.strokeStyle = '#222';
      ctx.lineWidth = 1.6;
      ctx.strokeRect(x0, y0, bw, bh);
      ctx.fillStyle = n[3] === 'r' ? '#2a0000' : '#111';
      ctx.fillText(n[0], x0 + bw / 2, y0 + bh / 2 + 1, bw - 6);
    });

    ctx.fillStyle = '#111';
    keggTexts.forEach(t => {
      ctx.font = t[4] === 'b' ? 'bold 26px ' + SERIF : t[4] === 'm' ? '27px ' + MONO : '24px ' + SERIF;
      ctx.textAlign = t[3];
      ctx.fillText(t[0], X(t[1]), Y(t[2]));
    });
    ctx.restore();
  }
};

new Chart(makeCanvas(0, 1740, 2261, 1635), {
  type: 'scatter',
  data: { datasets: [{ data: keggNodes.map(n => ({ x: n[1] + 45, y: n[2] + 16 })), pointRadius: 0 }] },
  options: {
    layout: { padding: 0 },
    scales: {
      x: { type: 'linear', min: 0, max: 2261, display: false },
      y: { type: 'linear', min: 1740, max: 3375, reverse: true, display: false }
    }
  },
  plugins: [keggPlugin]
});
</script>
</body>
</html>
